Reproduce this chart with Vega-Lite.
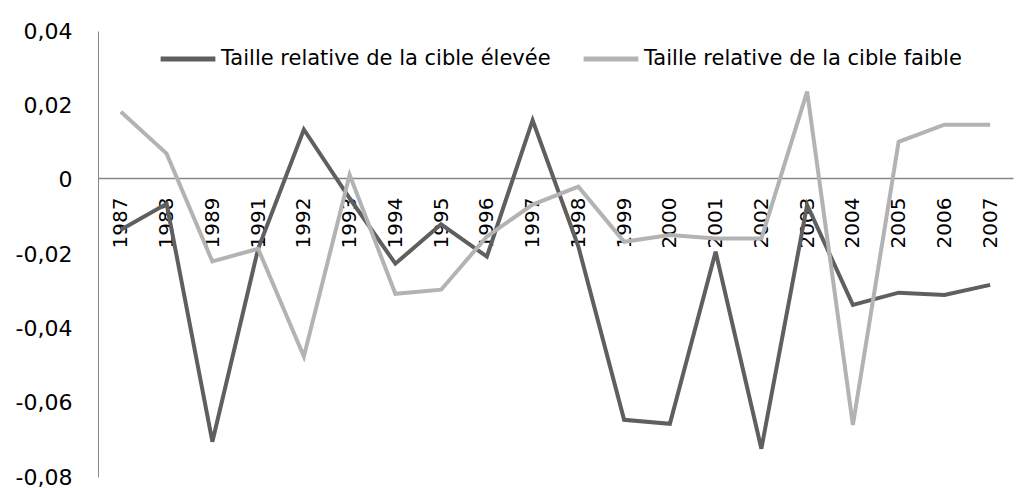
{
  "$schema": "https://vega.github.io/schema/vega-lite/v6.json",
  "width": 915,
  "height": 446,
  "autosize": {"type": "none"},
  "padding": {"left": 98, "top": 31, "right": 13, "bottom": 11},
  "background": "white",
  "config": {"view": {"stroke": null}, "font": "DejaVu Sans"},
  "data": {
    "values": [
      {"year": "1987", "serie": "Taille relative de la cible élevée", "value": -0.0135},
      {"year": "1988", "serie": "Taille relative de la cible élevée", "value": -0.0065},
      {"year": "1989", "serie": "Taille relative de la cible élevée", "value": -0.0705},
      {"year": "1991", "serie": "Taille relative de la cible élevée", "value": -0.0186},
      {"year": "1992", "serie": "Taille relative de la cible élevée", "value": 0.0135},
      {"year": "1993", "serie": "Taille relative de la cible élevée", "value": -0.005},
      {"year": "1994", "serie": "Taille relative de la cible élevée", "value": -0.0226},
      {"year": "1995", "serie": "Taille relative de la cible élevée", "value": -0.012},
      {"year": "1996", "serie": "Taille relative de la cible élevée", "value": -0.0207},
      {"year": "1997", "serie": "Taille relative de la cible élevée", "value": 0.016},
      {"year": "1998", "serie": "Taille relative de la cible élevée", "value": -0.018},
      {"year": "1999", "serie": "Taille relative de la cible élevée", "value": -0.0646},
      {"year": "2000", "serie": "Taille relative de la cible élevée", "value": -0.0657},
      {"year": "2001", "serie": "Taille relative de la cible élevée", "value": -0.0194},
      {"year": "2002", "serie": "Taille relative de la cible élevée", "value": -0.0724},
      {"year": "2003", "serie": "Taille relative de la cible élevée", "value": -0.0068},
      {"year": "2004", "serie": "Taille relative de la cible élevée", "value": -0.0337},
      {"year": "2005", "serie": "Taille relative de la cible élevée", "value": -0.0304},
      {"year": "2006", "serie": "Taille relative de la cible élevée", "value": -0.031},
      {"year": "2007", "serie": "Taille relative de la cible élevée", "value": -0.0283},
      {"year": "1987", "serie": "Taille relative de la cible faible", "value": 0.0183},
      {"year": "1988", "serie": "Taille relative de la cible faible", "value": 0.007},
      {"year": "1989", "serie": "Taille relative de la cible faible", "value": -0.022},
      {"year": "1991", "serie": "Taille relative de la cible faible", "value": -0.0186},
      {"year": "1992", "serie": "Taille relative de la cible faible", "value": -0.0476},
      {"year": "1993", "serie": "Taille relative de la cible faible", "value": 0.0013},
      {"year": "1994", "serie": "Taille relative de la cible faible", "value": -0.0307},
      {"year": "1995", "serie": "Taille relative de la cible faible", "value": -0.0296},
      {"year": "1996", "serie": "Taille relative de la cible faible", "value": -0.0153},
      {"year": "1997", "serie": "Taille relative de la cible faible", "value": -0.0067},
      {"year": "1998", "serie": "Taille relative de la cible faible", "value": -0.0019},
      {"year": "1999", "serie": "Taille relative de la cible faible", "value": -0.0167},
      {"year": "2000", "serie": "Taille relative de la cible faible", "value": -0.0149},
      {"year": "2001", "serie": "Taille relative de la cible faible", "value": -0.0158},
      {"year": "2002", "serie": "Taille relative de la cible faible", "value": -0.0158},
      {"year": "2003", "serie": "Taille relative de la cible faible", "value": 0.0237},
      {"year": "2004", "serie": "Taille relative de la cible faible", "value": -0.066},
      {"year": "2005", "serie": "Taille relative de la cible faible", "value": 0.0102},
      {"year": "2006", "serie": "Taille relative de la cible faible", "value": 0.0148},
      {"year": "2007", "serie": "Taille relative de la cible faible", "value": 0.0148}
    ]
  },
  "mark": {"type": "line", "strokeWidth": 4, "strokeJoin": "miter"},
  "encoding": {
    "x": {
      "field": "year",
      "type": "ordinal",
      "sort": null,
      "scale": {"type": "point", "padding": 0.5},
      "axis": {
        "title": null,
        "orient": "bottom",
        "offset": -299,
        "labelAngle": -90,
        "labelAlign": "right",
        "labelBaseline": "middle",
        "labelPadding": 19,
        "labelFontSize": 20,
        "labelColor": "#000000",
        "ticks": false,
        "domainColor": "#868686",
        "domainWidth": 1.5,
        "grid": false
      }
    },
    "y": {
      "field": "value",
      "type": "quantitative",
      "scale": {"domain": [-0.08, 0.04], "nice": false, "zero": false},
      "axis": {
        "title": null,
        "values": [-0.08, -0.06, -0.04, -0.02, 0, 0.02, 0.04],
        "labelExpr": "datum.value == 0 ? '0' : (datum.value < 0 ? '-' : '') + replace(format(abs(datum.value), '.2f'), '.', ',')",
        "labelFontSize": 22,
        "labelColor": "#000000",
        "labelPadding": 26,
        "ticks": false,
        "grid": false,
        "domainColor": "#868686",
        "domainWidth": 1
      }
    },
    "color": {
      "field": "serie",
      "type": "nominal",
      "scale": {
        "domain": ["Taille relative de la cible élevée", "Taille relative de la cible faible"],
        "range": ["#5f5f5f", "#b3b3b3"]
      },
      "legend": {
        "title": null,
        "orient": "none",
        "legendX": 60,
        "legendY": -2,
        "direction": "horizontal",
        "columns": 2,
        "columnPadding": 22,
        "symbolType": "stroke",
        "symbolSize": 3000,
        "symbolStrokeWidth": 5,
        "labelFontSize": 21,
        "labelColor": "#000000",
        "labelOffset": 3,
        "labelLimit": 500
      }
    }
  }
}
